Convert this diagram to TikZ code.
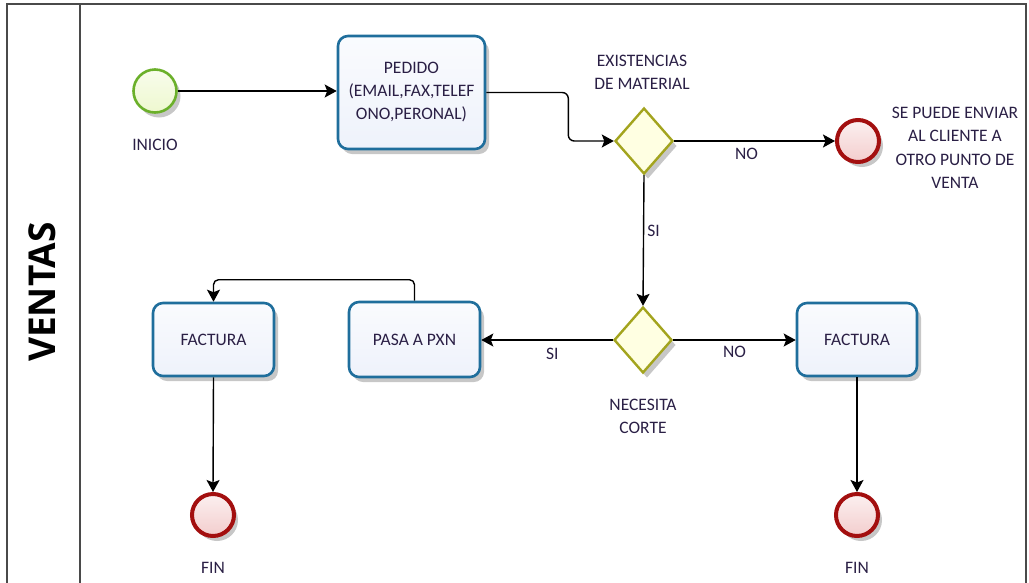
\documentclass[tikz,border=0pt]{standalone}
\usepackage{fontspec}
\setmainfont{Carlito}
\newfontfamily\lanefont{Open Sans}
\usetikzlibrary{arrows.meta,shapes.geometric,shadows}
\definecolor{txt}{HTML}{2A1F45}
\definecolor{boxblue}{HTML}{1F6E9C}
\definecolor{boxfill}{HTML}{EEF2FB}
\definecolor{startgreen}{HTML}{6BB02A}
\definecolor{startfill}{HTML}{EEF8CF}
\definecolor{gwline}{HTML}{A3A41E}
\definecolor{gwfill}{HTML}{FFFFE2}
\definecolor{endred}{HTML}{A30F0F}
\definecolor{endfill}{HTML}{F3CDCD}
\definecolor{frame}{HTML}{4A4A4A}
\begin{document}
\begin{tikzpicture}[x=1pt,y=-1pt,
  font=\fontsize{17.5}{23}\selectfont, text=txt,
  shad/.style={drop shadow={shadow xshift=4pt,shadow yshift=-5pt,opacity=0.22,fill=black}},
  task/.style={draw=boxblue, line width=2.6pt, rounded corners=10pt,
    top color=white!70!boxfill, bottom color=boxfill, align=center, inner sep=0pt, shad},
  gate/.style={diamond, draw=gwline, line width=2.4pt, fill=gwfill, inner sep=0pt,
    minimum width=58pt, minimum height=66pt, aspect=0.88, shad},
  startev/.style={circle, draw=startgreen, line width=2.6pt,
    top color=white!60!startfill, bottom color=startfill, minimum size=43pt, inner sep=0pt, shad},
  endev/.style={circle, draw=endred, line width=4pt,
    top color=white!70!endfill, bottom color=endfill, minimum size=42pt, inner sep=0pt, shad},
  flow/.style={draw=black, line width=1.4pt, -{Stealth[length=12pt,width=13pt,inset=2.5pt]}},
  lbl/.style={align=center, inner sep=0pt},
]
\useasboundingbox (0,0) rectangle (1029,582);
% pool frame
\draw[frame, line width=1.6pt] (7,600) -- (7,4) -- (1026,4) -- (1026,600);
\draw[frame, line width=1.6pt] (80,4) -- (80,600);
\node[rotate=90, inner sep=0pt, text=black] (lane) at (42,292)
  {\lanefont\bfseries\fontsize{37}{40}\selectfont VENTAS};

% nodes
\node[startev] (inicio) at (155,91) {};
\node[lbl] (linicio) at (155,145) {INICIO};
\node[task, minimum width=147pt, minimum height=113pt] (pedido) at (411.5,92.5)
  {PEDIDO\\(EMAIL,FAX,TELEF\\ONO,PERONAL)};
\node[gate] (g1) at (644,141) {};
\node[lbl] (lg1) at (642,72) {EXISTENCIAS\\DE MATERIAL};
\node[endev] (fin0) at (858,141) {};
\node[lbl, font=\fontsize{17.5}{23.5}\selectfont] (lfin0) at (955,148)
  {SE PUEDE ENVIAR\\AL CLIENTE A\\OTRO PUNTO DE\\VENTA};
\node[gate] (g2) at (643,340) {};
\node[lbl] (lg2) at (643,416) {NECESITA\\CORTE};
\node[task, minimum width=131pt, minimum height=75pt] (pasa) at (414.5,339.5) {PASA A PXN};
\node[task, minimum width=121pt, minimum height=73pt] (f1) at (213.5,339.5) {FACTURA};
\node[task, minimum width=120pt, minimum height=73pt] (f2) at (857,339.5) {FACTURA};
\node[endev] (fin1) at (213,515) {};
\node[lbl] (lfin1) at (213,568) {FIN};
\node[endev] (fin2) at (857,515) {};
\node[lbl] (lfin2) at (857,568) {FIN};

% connectors
\draw[flow] (inicio.east) -- (inicio.east -| pedido.west);
\draw[flow, rounded corners=6pt] (pedido.east) -- ++(82,0) |- (g1.west);
\draw[flow] (g1.east) -- node[lbl, below=6pt, pos=0.45] (lno1) {NO} (fin0.west);
\draw[flow] (g1.south) -- node[lbl, right=3pt, pos=0.43] (lsi1) {SI} (g2.north);
\draw[flow] (g2.west) -- node[lbl, below=7pt, pos=0.46] (lsi2) {SI} (g2.west -| pasa.east);
\draw[flow] (g2.east) -- node[lbl, below=5pt, pos=0.5] (lno2) {NO} (g2.east -| f2.west);
\draw[flow, rounded corners=5pt] (pasa.north) -- ++(0,-21) -| (f1.north);
\draw[flow] (f1.south) -- (fin1.north);
\draw[flow] (f2.south) -- (fin2.north);
\end{tikzpicture}
\end{document}
